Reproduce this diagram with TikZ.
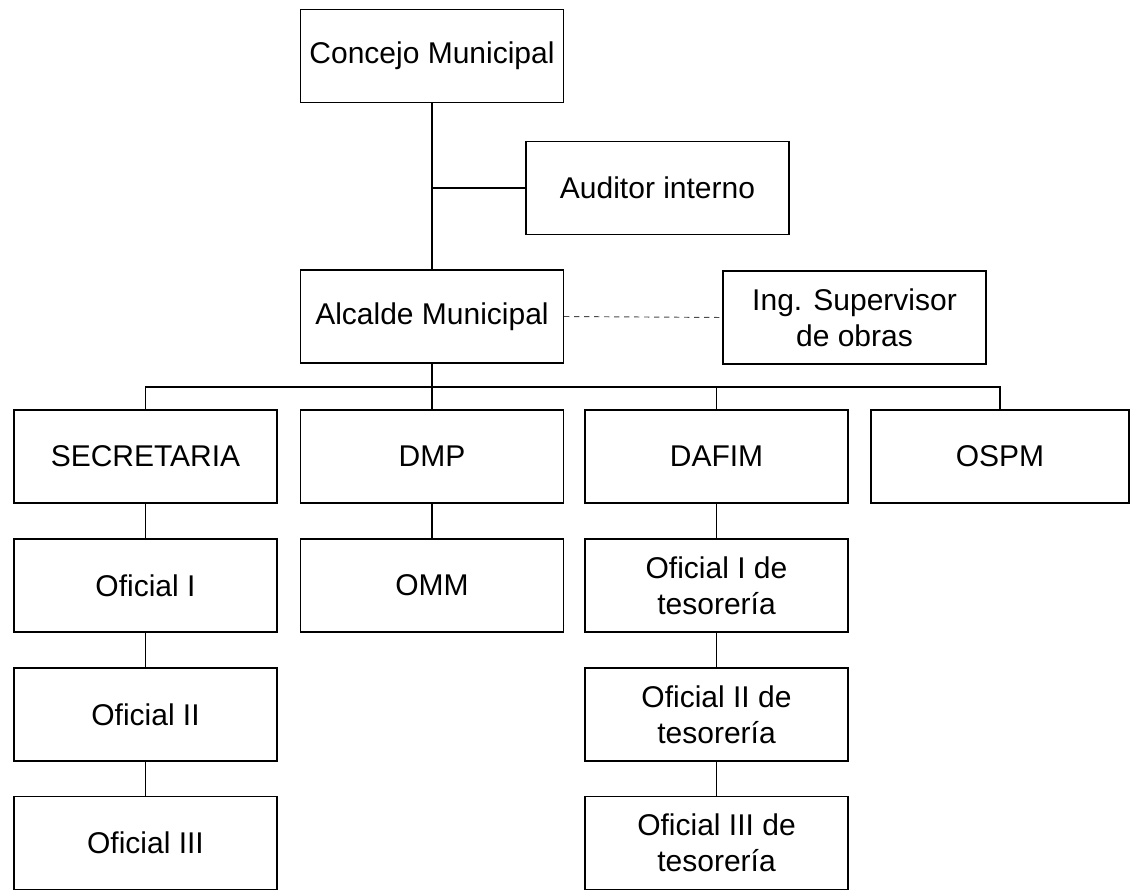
\documentclass[tikz,border=0pt]{standalone}
\usepackage{fontspec}
\setmainfont{Liberation Sans}
\begin{document}
\begin{tikzpicture}[x=0.75pt,y=-0.75pt,
  bx/.style={draw=black, line width=1.1pt, fill=white, inner sep=2pt, align=center,
    minimum width=197pt, minimum height=70pt,
    font=\fontsize{22.5}{27}\selectfont},
  ln/.style={draw=black, line width=1pt},
  dl/.style={draw=black!70, line width=0.7pt, dash pattern=on 4pt off 3.5pt}]
\useasboundingbox (0,0) rectangle (1130,895);
\fill[white] (0,0) rectangle (1130,895);
% top levels
\node[bx] (conc) at (432,56) {Concejo Municipal};
\node[bx] (aud) at (657.5,188) {Auditor interno};
\node[bx] (alc) at (432,316.5) {Alcalde Municipal};
\node[bx] (ing) at (854.5,317.5) {Ing. Supervisor\\de obras};
% row 1
\node[bx] (sec) at (145.5,456.5) {SECRETARIA};
\node[bx] (dmp) at (432,456.5) {DMP};
\node[bx] (dafim) at (716.5,456.5) {DAFIM};
\node[bx, minimum width=193.5pt] (ospm) at (1000,456.5) {OSPM};
% row 2
\node[bx] (of1) at (145.5,585.5) {Oficial I};
\node[bx] (omm) at (432,585.5) {OMM};
\node[bx] (t1) at (716.5,585.5) {Oficial I de\\tesorería};
% row 3
\node[bx] (of2) at (145.5,714.5) {Oficial II};
\node[bx] (t2) at (716.5,714.5) {Oficial II de\\tesorería};
% row 4
\node[bx] (of3) at (145.5,843) {Oficial III};
\node[bx] (t3) at (716.5,843) {Oficial III de\\tesorería};
% connectors
\coordinate (bus) at (0,387);
\draw[ln] (conc.south) -- (alc.north);
\draw[ln] (aud.west -| conc.south) -- (aud.west);
\draw[dl] (alc.east) -- (ing.west);
\draw[ln] (alc.south) -- (alc.south |- bus);
\draw[ln] (sec.north) -- (sec.north |- bus) -- (ospm.north |- bus) -- (ospm.north);
\draw[ln] (dmp.north) -- (dmp.north |- bus);
\draw[ln] (dafim.north) -- (dafim.north |- bus);
\draw[ln] (sec.south) -- (of1.north);
\draw[ln] (of1.south) -- (of2.north);
\draw[ln] (of2.south) -- (of3.north);
\draw[ln] (dmp.south) -- (omm.north);
\draw[ln] (dafim.south) -- (t1.north);
\draw[ln] (t1.south) -- (t2.north);
\draw[ln] (t2.south) -- (t3.north);
\end{tikzpicture}
\end{document}
